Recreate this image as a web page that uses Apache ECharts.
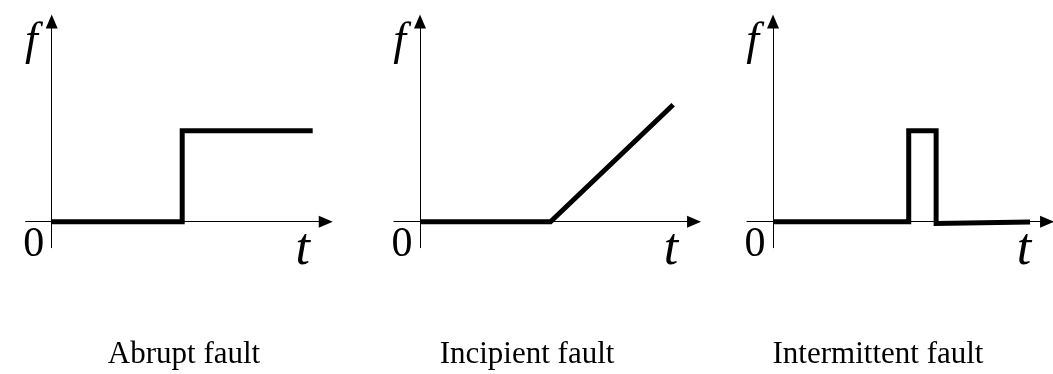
<!DOCTYPE html>
<html>
<head>
<meta charset="utf-8">
<script src="https://cdn.jsdelivr.net/npm/echarts@6/dist/echarts.min.js"></script>
<style>
html,body{margin:0;padding:0;background:#fff;}
#chart{width:1053px;height:374px;}
</style>
</head>
<body>
<div id="chart"></div>
<script>
// ---- data ----
const panelTitles = ['Abrupt fault', 'Incipient fault', 'Intermittent fault'];
const abruptT = [0, 5, 5, 10];
const abruptF = [0, 0, 3.5, 3.5];
const incipientT = [0, 5, 9.7];
const incipientF = [0, 0, 4.5];
const intermittentT = [0, 5.2, 5.2, 6.25, 6.25, 9.85];
const intermittentF = [0, 0, 3.5, 3.5, -0.07, -0.01];
const yAxisName = 'f';
const xAxisName = 't';
const originLabel = '0';

// ---- layout ----
const X_MIN = -1, X_MAX = 10.5, Y_MIN = -1, Y_MAX = 7.7;
const PX_X = 26.1, PX_Y = 26;
const gridLefts = [25.6, 393.9, 746.9];
const gridTop = 221.7 - Y_MAX * PX_Y;
const gridW = (X_MAX - X_MIN) * PX_X;
const gridH = (Y_MAX - Y_MIN) * PX_Y;
const titleCenters = [184, 527, 878];
const serif = 'Liberation Serif';

const seriesT = [abruptT, incipientT, intermittentT];
const seriesF = [abruptF, incipientF, intermittentF];

const grids = [], xAxes = [], yAxes = [], series = [], graphics = [];
const axisLine = {
  onZero: true,
  symbol: ['none', 'triangle'],
  symbolSize: [12, 14],
  lineStyle: {color: '#000', width: 1}
};
function txt(x, y, text, size, italic, align, vAlign) {
  return {type: 'text', x: x, y: y, silent: true, style: {
    text: text, fontFamily: serif, fontSize: size, fontStyle: italic ? 'italic' : 'normal',
    fill: '#000', align: align, verticalAlign: vAlign}};
}
for (let i = 0; i < 3; i++) {
  grids.push({left: gridLefts[i], top: gridTop, width: gridW, height: gridH, containLabel: false});
  xAxes.push({type: 'value', gridIndex: i, min: X_MIN, max: X_MAX,
    axisLine: axisLine, axisTick: {show: false}, axisLabel: {show: false}, splitLine: {show: false}});
  yAxes.push({type: 'value', gridIndex: i, min: Y_MIN, max: Y_MAX,
    axisLine: axisLine, axisTick: {show: false}, axisLabel: {show: false}, splitLine: {show: false}});
  series.push({
    type: 'line', xAxisIndex: i, yAxisIndex: i, symbol: 'none', silent: true,
    data: seriesT[i].map((t, k) => [t, seriesF[i][k]]),
    lineStyle: {color: '#000', width: 5, join: 'miter', cap: 'butt'}
  });
  const ox = gridLefts[i] + PX_X;       // y-axis x
  const tip = gridLefts[i] + gridW + 7; // x arrow tip
  graphics.push(txt(ox - 14, 42, yAxisName, 46, true, 'right', 'middle'));
  graphics.push(txt(ox - 18, 245, originLabel, 42, false, 'center', 'middle'));
  graphics.push(txt(tip - 30, 250, xAxisName, 52, true, 'center', 'middle'));
  graphics.push(txt(titleCenters[i], 355, panelTitles[i], 31, false, 'center', 'middle'));
}

const chart = echarts.init(document.getElementById('chart'), null, {renderer: 'canvas'});
chart.setOption({
  animation: false,
  backgroundColor: '#fff',
  grid: grids,
  xAxis: xAxes,
  yAxis: yAxes,
  series: series,
  graphic: graphics
});
</script>
</body>
</html>
